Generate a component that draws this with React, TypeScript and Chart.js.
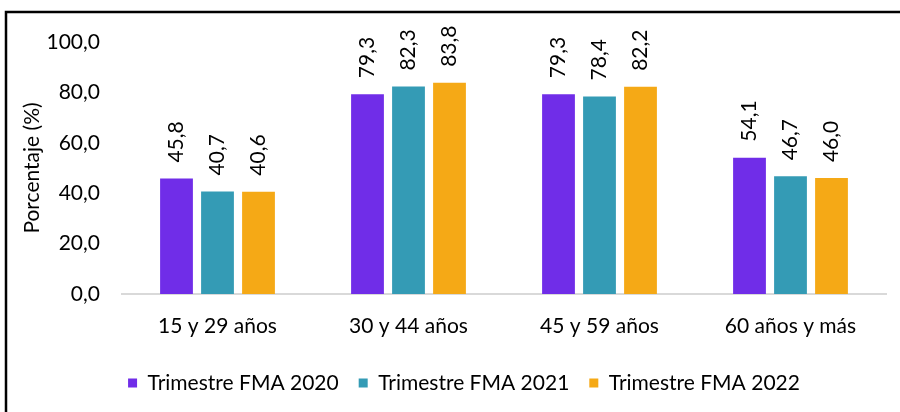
import React, { useEffect, useRef } from "react";
import { Chart, registerables } from "chart.js";

Chart.register(...registerables);

const categories = ["15 y 29 años", "30 y 44 años", "45 y 59 años", "60 años y más"];
const seriesNames = ["Trimestre FMA 2020", "Trimestre FMA 2021", "Trimestre FMA 2022"];
const values2020 = [45.8, 79.3, 79.3, 54.1];
const values2021 = [40.7, 82.3, 78.4, 46.7];
const values2022 = [40.6, 83.8, 82.2, 46.0];
const colors = ["#702DE8", "#349BB5", "#F5A916"];
const yTicks = [0, 20, 40, 60, 80, 100];

const FONT = "Lato, 'Open Sans', sans-serif";
const FS = 21;
const fmt = (v: number) => v.toFixed(1).replace(".", ",");

const labelPlugin = {
  id: "vlabels",
  afterDatasetsDraw(chart: any) {
    const ctx = chart.ctx;
    ctx.save();
    ctx.font = `${FS}px ${FONT}`;
    ctx.fillStyle = "#000";
    ctx.textAlign = "left";
    ctx.textBaseline = "middle";
    chart.data.datasets.forEach((ds: any, i: number) => {
      const meta = chart.getDatasetMeta(i);
      meta.data.forEach((bar: any, j: number) => {
        ctx.save();
        ctx.translate(bar.x, bar.y - 16);
        ctx.rotate(-Math.PI / 2);
        ctx.fillText(fmt(ds.data[j]), 0, 0);
        ctx.restore();
      });
    });
    ctx.restore();
  },
};

const framePlugin = {
  id: "frame",
  beforeDraw(chart: any) {
    const ctx = chart.ctx;
    ctx.save();
    ctx.fillStyle = "#fff";
    ctx.fillRect(0, 0, chart.width, chart.height);
    ctx.restore();
  },
  afterDraw(chart: any) {
    const ctx = chart.ctx;
    ctx.save();
    ctx.strokeStyle = "#000";
    ctx.lineWidth = 2.5;
    ctx.strokeRect(6, 12, 910, 420);
    ctx.restore();
  },
};

export default function App() {
  const ref = useRef<HTMLCanvasElement>(null);
  useEffect(() => {
    if (!ref.current) return;
    const chart = new Chart(ref.current, {
      type: "bar",
      data: {
        labels: categories,
        datasets: [values2020, values2021, values2022].map((d, i) => ({
          label: seriesNames[i],
          data: d,
          backgroundColor: colors[i],
          borderWidth: 0,
          categoryPercentage: 0.644,
          barPercentage: 0.8,
        })),
      },
      options: {
        animation: false,
        responsive: false,
        devicePixelRatio: 1,
        layout: { padding: { left: 42, right: 14, top: 42, bottom: 8.5 } },
        plugins: {
          tooltip: { enabled: false },
          legend: {
            position: "bottom",
            labels: {
              boxWidth: 9,
              boxHeight: 9,
              padding: 20,
              color: "#000",
              font: { family: FONT, size: FS },
            },
          },
        },
        scales: {
          x: {
            grid: { display: false, drawTicks: false },
            border: { display: true, color: "#D9D9D9", width: 2 },
            ticks: { color: "#000", padding: 19.4, font: { family: FONT, size: FS } },
            afterFit(scale: any) {
              scale.height = 58.5;
            },
          },
          y: {
            min: 0,
            max: 100,
            grid: { display: false, drawTicks: false },
            border: { display: false },
            afterBuildTicks(scale: any) {
              scale.ticks = yTicks.map((v) => ({ value: v }));
            },
            ticks: {
              color: "#000",
              padding: 22,
              font: { family: FONT, size: FS },
              callback: (v: any) => fmt(Number(v)),
            },
            title: {
              display: true,
              text: "Porcentaje (%)",
              color: "#000",
              padding: { top: -22.6, bottom: 0 },
              font: { family: FONT, size: FS },
            },
            afterFit(scale: any) {
              scale.width = 80;
            },
          },
        },
      },
      plugins: [labelPlugin, framePlugin],
    });
    return () => chart.destroy();
  }, []);
  return (
    <div style={{ position: "fixed", left: 0, top: 0, width: 900, height: 412, background: "#fff" }}>
      <canvas ref={ref} width={900} height={412} style={{ width: 900, height: 412, display: "block" }} />
    </div>
  );
}
